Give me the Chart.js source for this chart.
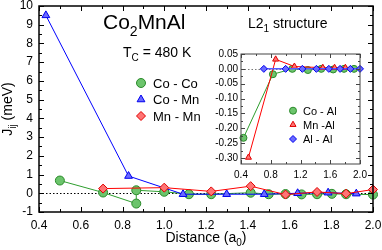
<!DOCTYPE html>
<html><head><meta charset="utf-8">
<script src="https://cdn.jsdelivr.net/npm/chart.js@4.4.0/dist/chart.umd.min.js"></script>
<style>
html,body{margin:0;padding:0;background:#fff;}
#wrap{position:relative;width:382px;height:250px;background:#fff;}
#wrap canvas{position:absolute;left:0;top:0;}
</style></head><body>
<div id="wrap"><canvas id="main" width="382" height="250"></canvas><canvas id="inset" width="382" height="250"></canvas></div>
<script>
const FONT = '"Liberation Sans", Arial, Helvetica, sans-serif';

// ---------- main panel data ----------
const coCoDist = [0.5, 0.707, 0.866, 0.866, 1.0, 1.118, 1.225, 1.414, 1.5, 1.581, 1.658, 1.732, 1.803, 1.871, 2.0];
const coCoJ    = [0.68, 0.04, -0.55, 0.16, 0.08, -0.05, -0.05, 0.03, -0.05, -0.04, -0.06, -0.05, -0.03, -0.05, -0.07];
const coMnDist = [0.433, 0.829, 1.090, 1.299, 1.479, 1.639, 1.785, 1.920];
const coMnJ    = [9.5, 0.92, -0.05, -0.05, -0.05, 0.0, 0.03, -0.02];
const mnMnDist = [0.707, 1.0, 1.225, 1.414, 1.581, 1.732, 1.871, 2.0];
const mnMnJ    = [0.25, 0.3, 0.1, 0.38, -0.07, 0.07, -0.02, 0.2];
const mainXTicks = [0.4, 0.6, 0.8, 1.0, 1.2, 1.4, 1.6, 1.8, 2.0];
const mainYTicks = [-1, 0, 1, 2, 3, 4, 5, 6, 7, 8, 9, 10];

// ---------- inset data ----------
const coAlDist = [0.433, 0.829, 1.090, 1.299, 1.479, 1.639, 1.785, 1.920];
const coAlJ    = [-0.232, -0.018, 0.0, -0.004, 0.0, -0.002, 0.0, 0.0];
const mnAlDist = [0.5, 0.866, 1.118, 1.5, 1.658, 1.803];
const mnAlJ    = [-0.298, 0.032, 0.008, 0.004, 0.004, 0.004];
const alAlDist = [0.707, 1.0, 1.225, 1.414, 1.581, 1.732, 1.871, 2.0];
const alAlJ    = [0, 0, 0, 0, 0, 0, 0, 0];
const insetXTicks = [0.4, 0.8, 1.2, 1.6, 2.0];
const insetYTicks = [-0.30, -0.25, -0.20, -0.15, -0.10, -0.05, 0.00, 0.05];

const STY = {
  green: {line:'#2e9e2e', fill:'#6cc46c', border:'#2a8a2a', shape:'circle'},
  blue:  {line:'#0000ff', fill:'#6a6aff', border:'#0000ee', shape:'triangle'},
  red:   {line:'#ff0000', fill:'#ff7474', border:'#e00000', shape:'rectRot'},
  blueL: {line:'#5a5aff', fill:'#6a6aff', border:'#0000ee', shape:'rectRot'}
};

function pts(xs, ys){ return xs.map((x,i)=>({x:x, y:ys[i]})); }
function mids(a){ const r=[]; for(let i=0;i<a.length-1;i++) r.push((a[i]+a[i+1])/2); return r; }
function noPad(s){ s.paddingTop = 0; s.paddingBottom = 0; s.paddingLeft = 0; s.paddingRight = 0; }

function ds(label, xs, ys, st, r, order, lw){
  return {label, data: pts(xs, ys), showLine:true, borderColor:st.line, borderWidth:lw||1,
    pointStyle:st.shape, pointRadius:r, pointBorderWidth:1, pointBackgroundColor:st.fill,
    pointBorderColor:st.border, backgroundColor:st.fill, order, clip:false, tension:0};
}

function drawRich(ctx, x, y, parts, size, align){
  const subSize = Math.round(size*0.68), drop = size*0.32;
  let w = 0;
  const ms = parts.map(p=>{ ctx.font = (p[1]?subSize:size)+'px '+FONT; const m = ctx.measureText(p[0]).width; w+=m; return m; });
  let cx = align==='center' ? x - w/2 : x;
  ctx.textAlign='left'; ctx.textBaseline='alphabetic';
  parts.forEach((p,i)=>{ ctx.font=(p[1]?subSize:size)+'px '+FONT; ctx.fillText(p[0], cx, p[1]? y+drop : y); cx+=ms[i]; });
}

function marker(ctx, st, r, x, y){
  ctx.save();
  ctx.fillStyle = st.fill; ctx.strokeStyle = st.border; ctx.lineWidth = 1;
  if (Chart.helpers && Chart.helpers.drawPoint) {
    Chart.helpers.drawPoint(ctx, {pointStyle: st.shape, radius: r, rotation: 0, borderWidth: 1}, x, y);
  }
  ctx.restore();
}

function makeFrame(cfg){
  return {
    id: 'frame_'+cfg.name,
    beforeDatasetsDraw(chart){
      const {ctx, chartArea:a, scales:{x,y}} = chart;
      ctx.save();
      ctx.strokeStyle = cfg.zeroColor; ctx.lineWidth = 1; ctx.setLineDash([1.5,2]);
      const y0 = Math.round(y.getPixelForValue(0))+0.5;
      ctx.beginPath(); ctx.moveTo(a.left, y0); ctx.lineTo(a.right, y0); ctx.stroke();
      ctx.restore();
    },
    afterDatasetsDraw(chart){
      const {ctx, chartArea:a, scales:{x,y}} = chart;
      ctx.save();
      ctx.strokeStyle = cfg.boxColor; ctx.lineWidth = 1;
      const tick = (vals, len, horiz) => {
        vals.forEach(v=>{
          if (horiz) {
            const px = Math.round(x.getPixelForValue(v))+0.5;
            ctx.beginPath(); ctx.moveTo(px, a.bottom); ctx.lineTo(px, a.bottom-len);
            ctx.moveTo(px, a.top); ctx.lineTo(px, a.top+len); ctx.stroke();
          } else {
            const py = Math.round(y.getPixelForValue(v))+0.5;
            ctx.beginPath(); ctx.moveTo(a.left, py); ctx.lineTo(a.left+len, py);
            ctx.moveTo(a.right, py); ctx.lineTo(a.right-len, py); ctx.stroke();
          }
        });
      };
      tick(cfg.xMajor, cfg.major, true); tick(mids(cfg.xMajor), cfg.minor, true);
      tick(cfg.yMajor, cfg.major, false); tick(mids(cfg.yMajor), cfg.minor, false);
      ctx.lineWidth = cfg.boxWidth;
      ctx.strokeRect(a.left, a.top, a.right-a.left, a.bottom-a.top);
      ctx.restore();
    }
  };
}

// ---------- main chart ----------
const mainDatasets = [
  ds('Co - Co', coCoDist, coCoJ, STY.green, 4.5, 3),
  ds('Co - Mn', coMnDist, coMnJ, STY.blue, 4.5, 2),
  ds('Mn - Mn', mnMnDist, mnMnJ, STY.red, 4.5, 1)
];
const mainStyles = [STY.green, STY.blue, STY.red];

const mainText = {
  id:'mainText',
  afterDraw(chart){
    const ctx = chart.ctx; const a = chart.chartArea;
    ctx.save(); ctx.fillStyle = '#000';
    drawRich(ctx, 103, 29, [['Co',0],['2',1],['MnAl',0]], 21, 'left');
    drawRich(ctx, 123, 57, [['T',0],['C',1],[' = 480 K',0]], 14, 'left');
    drawRich(ctx, 248, 28, [['L2',0],['1',1],[' structure',0]], 14, 'left');
    drawRich(ctx, (a.left+a.right)/2, 242, [['Distance (a',0],['0',1],[')',0]], 14, 'center');
    ctx.save(); ctx.translate(12, (a.top+a.bottom)/2); ctx.rotate(-Math.PI/2);
    drawRich(ctx, 0, 0, [['J',0],['ij',1],[' (meV)',0]], 14, 'center');
    ctx.restore();
    const rows = [83, 99.5, 116];
    mainDatasets.forEach((d,i)=>{
      marker(ctx, mainStyles[i], 4.5, 141, rows[i]);
      ctx.fillStyle='#000'; ctx.font = '13px '+FONT; ctx.textAlign='left'; ctx.textBaseline='alphabetic';
      ctx.fillText(d.label, 153, rows[i]+4.6);
    });
    ctx.restore();
  }
};

new Chart(document.getElementById('main'), {
  type:'scatter',
  data:{datasets: mainDatasets},
  options:{
    responsive:false, animation:false, devicePixelRatio:1,
    layout:{padding:{left:0, top:6, right:9, bottom:0}},
    plugins:{legend:{display:false}, tooltip:{enabled:false}},
    scales:{
      x:{type:'linear', min:0.4, max:2.0,
        grid:{display:false, drawTicks:false}, border:{display:false},
        afterBuildTicks: s=>{ s.ticks = mainXTicks.map(v=>({value:v})); },
        afterFit: s=>{ s.height = 38; noPad(s); },
        ticks:{padding:6, color:'#000', autoSkip:false, maxRotation:0, font:{family:FONT, size:12}, callback:v=>Number(v).toFixed(1)}},
      y:{type:'linear', min:-1, max:10,
        grid:{display:false, drawTicks:false}, border:{display:false},
        afterBuildTicks: s=>{ s.ticks = mainYTicks.map(v=>({value:v})); },
        afterFit: s=>{ s.width = 39; noPad(s); },
        ticks:{padding:6, color:'#000', autoSkip:false, font:{family:FONT, size:12}, callback:v=>String(v)}}
    }
  },
  plugins:[makeFrame({name:'main', xMajor:mainXTicks, yMajor:mainYTicks, major:5, minor:3, boxColor:'#000', boxWidth:1.5, zeroColor:'#000'}), mainText]
});

// ---------- inset chart ----------
const insetDatasets = [
  ds('Co - Al', coAlDist, coAlJ, STY.green, 3.5, 3),
  ds('Mn -Al', mnAlDist, mnAlJ, STY.red, 3.5, 2),
  ds('Al - Al', alAlDist, alAlJ, STY.blueL, 3.5, 1, 1.5)
];
insetDatasets[1].pointStyle = 'triangle';
const insetStyles = [STY.green, {line:'#ff0000', fill:'#ff7474', border:'#e00000', shape:'triangle'}, STY.blueL];

const insetText = {
  id:'insetText',
  afterDraw(chart){
    const ctx = chart.ctx;
    ctx.save();
    const rows = [110.7, 124.7, 139];
    insetDatasets.forEach((d,i)=>{
      marker(ctx, insetStyles[i], 3.5, 293, rows[i]);
      ctx.fillStyle='#000'; ctx.font = '11px '+FONT; ctx.textAlign='left'; ctx.textBaseline='alphabetic';
      ctx.fillText(d.label, 303, rows[i]+4);
    });
    ctx.restore();
  }
};

new Chart(document.getElementById('inset'), {
  type:'scatter',
  data:{datasets: insetDatasets},
  options:{
    responsive:false, animation:false, devicePixelRatio:1,
    layout:{padding:{left:196, top:54, right:22, bottom:66}},
    plugins:{legend:{display:false}, tooltip:{enabled:false}},
    scales:{
      x:{type:'linear', min:0.4, max:2.0,
        grid:{display:false, drawTicks:false}, border:{display:false},
        afterBuildTicks: s=>{ s.ticks = insetXTicks.map(v=>({value:v})); },
        afterFit: s=>{ s.height = 20; noPad(s); },
        ticks:{padding:5, color:'#000', autoSkip:false, maxRotation:0, font:{family:FONT, size:10}, callback:v=>Number(v).toFixed(1)}},
      y:{type:'linear', min:-0.32, max:0.05,
        grid:{display:false, drawTicks:false}, border:{display:false},
        afterBuildTicks: s=>{ s.ticks = insetYTicks.map(v=>({value:v})); },
        afterFit: s=>{ s.width = 45; noPad(s); },
        ticks:{padding:3, color:'#000', autoSkip:false, font:{family:FONT, size:10}, callback:v=>Number(v).toFixed(2)}}
    }
  },
  plugins:[makeFrame({name:'inset', xMajor:insetXTicks, yMajor:insetYTicks, major:4, minor:2, boxColor:'#444', boxWidth:1, zeroColor:'#777'}), insetText]
});
</script>
</body></html>
